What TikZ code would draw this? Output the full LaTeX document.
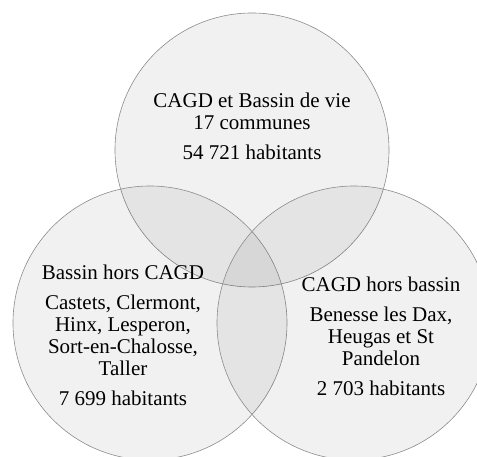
\documentclass[tikz,border=0pt]{standalone}
\usepackage{fontspec}
\setmainfont{Liberation Serif}
\usepackage[rgb]{xcolor}
\usepackage{tikz}

\tikzset{
	venn/.style={draw=black!45, line width=0.6pt, fill=black, fill opacity=0.055},
	venntext/.style={align=center, font=\fontsize{21}{22}\selectfont, inner sep=0pt}
}

\begin{document}
\begin{tikzpicture}[x=1pt, y=1pt]

	\useasboundingbox (0,0) rectangle (477,457);
	\clip (0,0) rectangle (477,457);

	% centres of the three sets
	\coordinate (cagdbassin) at (252,307);
	\coordinate (bassin) at (150,134);
	\coordinate (cagd) at (354,134);

	\foreach \c in {cagdbassin, bassin, cagd} {
		\draw[venn] (\c) circle (137pt);
	}

	\node[venntext] (txtcagdbassin) at (252,331) {CAGD et Bassin de vie\\17 communes\\[8pt]54 721 habitants};
	\node[venntext] (txtbassin) at (123,122) {Bassin hors CAGD\\[8pt]Castets, Clermont,\\Hinx, Lesperon,\\Sort-en-Chalosse,\\Taller\\[8pt]7 699 habitants};
	\node[venntext] (txtcagd) at (381,121) {CAGD hors bassin\\[8pt]Benesse les Dax,\\Heugas et St\\Pandelon\\[8pt]2 703 habitants};

\end{tikzpicture}
\end{document}
